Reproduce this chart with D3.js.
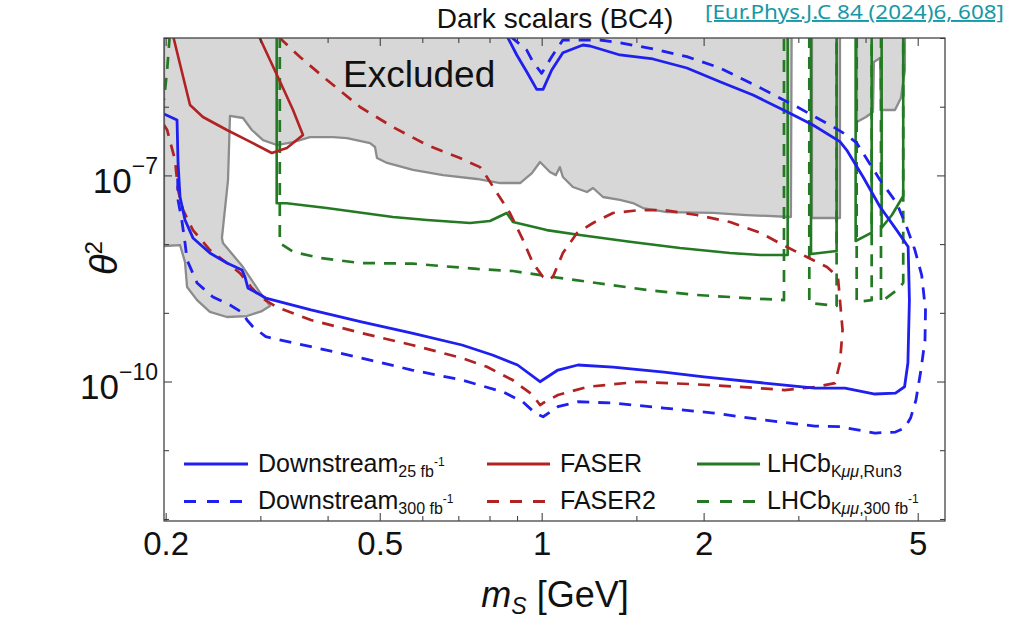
<!DOCTYPE html>
<html><head><meta charset="utf-8">
<script src="https://cdn.jsdelivr.net/npm/d3@7"></script>
<style>
body{margin:0;background:#fff;}
svg{display:block;font-family:"Liberation Sans",Arial,sans-serif;}
</style>
</head><body>
<svg id="chart" width="1009" height="623"></svg>
<script>
// ---------- data ----------
const massTicksMajor = [0.2, 0.5, 1, 2, 5];
const massTicksMinor = [0.3, 0.4, 0.6, 0.7, 0.8, 0.9, 1.5, 3, 4];
const thetaTicksLabeled = [1e-10, 1e-7];
const thetaTicksMinor = [1e-12, 1e-11, 1e-9, 1e-8, 1e-6, 1e-5];

const excludedMain = [[0.1986,1.1e-5],[0.1986,9.38e-9],[0.2127,9.70e-9],[0.2173,5.48e-9],[0.2192,2.38e-9],[0.2288,1.53e-9],[0.2417,1.03e-9],[0.260,8.69e-10],[0.2833,8.98e-10],[0.302,1.06e-9],[0.3126,1.26e-9],[0.30,1.94e-9],[0.2785,4.64e-9],[0.2556,1.04e-8],[0.2545,1.23e-8],[0.2612,8.57e-8],[0.2634,7.33e-7],[0.2785,6.85e-7],[0.2893,4.58e-7],[0.3034,3.27e-7],[0.322,2.77e-7],[0.345,3.06e-7],[0.371,3.62e-7],[0.4094,3.62e-7],[0.4346,3.50e-7],[0.4797,2.96e-7],[0.49,2.59e-7],[0.4942,1.79e-7],[0.516,1.52e-7],[0.5764,1.20e-7],[0.6556,1.01e-7],[0.758,8.87e-8],[0.837,7.75e-8],[0.912,7.75e-8],[0.9593,1.08e-7],[0.993,1.57e-7],[1.036,1.12e-7],[1.063,1.01e-7],[1.081,1.32e-7],[1.095,9.48e-8],[1.143,6.78e-8],[1.214,5.73e-8],[1.246,6.56e-8],[1.300,4.85e-8],[1.398,4.39e-8],[1.478,3.96e-8],[1.543,3.35e-8],[1.710,2.93e-8],[2.082,2.84e-8],[2.405,2.65e-8],[2.906,2.48e-8],[2.915,1.1e-5]];
const excludedStrip1 = [[3.18,1.1e-5],[3.18,2.40e-8],[3.585,2.40e-8],[3.585,1.1e-5]];
const excludedStrip2 = [[3.855,1.1e-5],[3.855,5.98e-7],[4.007,7.08e-7],[4.129,8.38e-7],[4.146,4.48e-6],[4.255,5.12e-6],[4.273,8.95e-7],[4.536,8.95e-7],[4.654,1.34e-6],[4.734,3.42e-6],[4.734,1.1e-5]];

const downstream25 = [[0.862,1.07e-5],[0.899,5.66e-6],[0.938,3.23e-6],[0.979,1.79e-6],[1.006,1.79e-6],[1.044,3.42e-6],[1.095,6.11e-6],[1.193,7.91e-6],[1.23,7.65e-6],[1.398,5.66e-6],[1.61,4.95e-6],[1.862,3.66e-6],[2.145,2.31e-6],[2.471,1.48e-6],[2.857,8.45e-7],[3.194,5.42e-7],[3.585,3.10e-7],[3.69,2.34e-7],[3.956,9.57e-8],[4.255,3.50e-8],[4.57,1.60e-8],[4.80,9.16e-9],[4.826,1.53e-9],[4.795,1.86e-10],[4.727,8.39e-11],[4.546,6.80e-11],[4.164,6.58e-11],[3.662,8.04e-11],[3.221,8.04e-11],[2.595,9.50e-11],[2.003,1.17e-10],[1.688,1.37e-10],[1.357,1.62e-10],[1.168,1.74e-10],[1.072,1.47e-10],[0.993,9.93e-11],[0.902,1.74e-10],[0.810,2.43e-10],[0.711,3.40e-10],[0.574,5.08e-10],[0.4624,7.41e-10],[0.3725,1.10e-9],[0.307,1.64e-9],[0.2957,1.94e-9],[0.2844,2.30e-9],[0.2809,3.32e-9],[0.2773,4.20e-9],[0.260,5.31e-9],[0.2417,7.41e-9],[0.2248,1.23e-8],[0.2173,2.24e-8],[0.2127,4.85e-8],[0.2109,1.52e-7],[0.210,6.40e-7],[0.1986,7.83e-7]];
const downstream300 = [[0.873,1.07e-5],[0.938,6.68e-6],[0.963,4.52e-6],[1.0,3.06e-6],[1.044,5.35e-6],[1.095,9.35e-6],[1.283,9.35e-6],[1.398,8.55e-6],[1.61,6.92e-6],[1.862,5.35e-6],[2.145,3.66e-6],[2.553,1.87e-6],[2.979,1.0e-6],[3.478,5.12e-7],[3.69,3.87e-7],[3.851,2.97e-7],[4.255,8.57e-8],[4.57,3.96e-8],[4.768,1.79e-8],[4.941,8.20e-9],[5.086,3.55e-9],[5.17,1.10e-9],[5.159,4.02e-10],[5.07,1.47e-10],[4.963,5.38e-11],[4.85,2.94e-11],[4.727,2.10e-11],[4.546,1.84e-11],[4.164,1.78e-11],[3.585,2.20e-11],[3.221,2.25e-11],[2.595,2.75e-11],[2.09,3.48e-11],[1.688,4.11e-11],[1.357,4.86e-11],[1.168,5.08e-11],[1.072,4.30e-11],[1.006,3.07e-11],[0.972,3.48e-11],[0.922,5.08e-11],[0.846,7.10e-11],[0.711,1.05e-10],[0.574,1.47e-10],[0.4624,2.20e-10],[0.3725,3.21e-10],[0.307,4.49e-10],[0.2905,6.28e-10],[0.2833,7.85e-10],[0.2785,9.93e-10],[0.2634,1.30e-9],[0.2449,1.70e-9],[0.2288,2.72e-9],[0.2192,5.87e-9],[0.2173,1.04e-8],[0.2143,2.24e-8],[0.2109,4.39e-8],[0.2105,1.01e-7]];

const faser = [[0.2065,1.07e-5],[0.222,1.06e-6],[0.2346,7.08e-7],[0.260,4.58e-7],[0.2833,3.27e-7],[0.315,2.12e-7],[0.336,2.51e-7],[0.36,3.87e-7],[0.345,8.95e-7],[0.3305,1.87e-6],[0.3126,4.79e-6],[0.298,1.07e-5]];
const faser2 = [[0.1986,5.42e-7],[0.2013,4.58e-7],[0.2082,1.67e-7],[0.2109,6.13e-8],[0.2155,3.13e-8],[0.2248,1.60e-8],[0.2417,8.20e-9],[0.260,5.31e-9],[0.2749,3.79e-9],[0.2893,2.30e-9],[0.30,1.70e-9],[0.322,1.21e-9],[0.3725,7.85e-10],[0.4624,5.08e-10],[0.574,3.40e-10],[0.711,2.20e-10],[0.791,1.64e-10],[0.883,1.05e-10],[0.9627,6.36e-11],[0.993,4.55e-11],[1.006,4.86e-11],[1.072,6.36e-11],[1.219,8.39e-11],[1.514,9.93e-11],[1.878,9.20e-11],[2.327,8.39e-11],[2.829,7.52e-11],[3.221,8.32e-11],[3.509,9.50e-11],[3.585,1.86e-10],[3.625,5.62e-10],[3.585,1.53e-9],[3.554,3.32e-9],[3.391,4.64e-9],[3.112,6.49e-9],[2.857,9.08e-9],[2.553,1.45e-8],[2.239,2.10e-8],[1.944,2.65e-8],[1.681,3.13e-8],[1.523,3.13e-8],[1.357,2.84e-8],[1.246,2.03e-8],[1.163,1.45e-8],[1.095,7.41e-9],[1.049,3.32e-9],[1.023,3.00e-9],[1.006,3.32e-9],[0.963,5.31e-9],[0.923,1.15e-8],[0.873,2.84e-8],[0.826,5.55e-8],[0.791,9.48e-8],[0.768,1.32e-7],[0.705,1.79e-7],[0.612,2.77e-7],[0.529,5.06e-7],[0.4596,9.91e-7],[0.399,2.45e-6],[0.3555,5.28e-6],[0.329,9.35e-6],[0.325,1.07e-5]];

const lhcbRun3 = [
  [[0.3217,1.07e-5],[0.3217,3.93e-8],[0.3357,3.93e-8],[0.3984,3.35e-8],[0.529,2.48e-8],[0.612,2.24e-8],[0.736,2.03e-8],[0.8014,2.17e-8],[0.861,2.84e-8],[0.8845,2.10e-8],[1.022,1.60e-8],[1.178,1.36e-8],[1.459,1.08e-8],[1.807,8.77e-9],[2.239,7.41e-9],[2.553,6.93e-9],[2.866,6.93e-9],[2.866,1.07e-5]],
  [[3.167,1.07e-5],[3.167,7.18e-9],[3.534,7.94e-9],[3.534,1.07e-5]],
  [[3.834,1.07e-5],[3.834,1.11e-8],[4.106,1.47e-8],[4.106,1.07e-5]],
  [[4.285,1.07e-5],[4.285,1.73e-8],[4.478,2.65e-8],[4.70,5.01e-8],[4.70,1.07e-5]]
];
const lhcb300 = [
  [[0.2035,1.07e-5],[0.2013,3.42e-6],[0.1986,1.26e-6]],
  [[0.326,1.07e-5],[0.326,1.03e-8],[0.345,7.74e-9],[0.387,6.28e-9],[0.4596,5.31e-9],[0.5764,5.19e-9],[0.758,4.35e-9],[0.8845,4.06e-9],[1.049,3.32e-9],[1.265,2.72e-9],[1.567,2.15e-9],[1.942,1.82e-9],[2.405,1.64e-9],[2.821,1.53e-9],[2.821,1.07e-5]],
  [[3.144,1.07e-5],[3.144,1.39e-9],[3.534,1.26e-9],[3.534,1.07e-5]],
  [[3.851,1.07e-5],[3.851,1.44e-9],[4.106,1.53e-9],[4.106,1.07e-5]],
  [[4.273,1.07e-5],[4.273,1.40e-9],[4.347,1.59e-9],[4.601,2.22e-9],[4.70,2.74e-9],[4.70,1.07e-5]]
];

const legendLabels = [
  {col:0,row:0,color:"#1f1ff0",dash:null,parts:[{t:"Downstream"},{t:"25 fb",s:1},{t:"-1",s:2}]},
  {col:0,row:1,color:"#1f1ff0",dash:"12,11",parts:[{t:"Downstream"},{t:"300 fb",s:1},{t:"-1",s:2}]},
  {col:1,row:0,color:"#b22222",dash:null,parts:[{t:"FASER"}]},
  {col:1,row:1,color:"#b22222",dash:"12,11",parts:[{t:"FASER2"}]},
  {col:2,row:0,color:"#237a23",dash:null,parts:[{t:"LHCb"},{t:"K",s:1},{t:"\u03bc\u03bc",s:1,i:1},{t:",Run3",s:1}]},
  {col:2,row:1,color:"#237a23",dash:"12,11",parts:[{t:"LHCb"},{t:"K",s:1},{t:"\u03bc\u03bc",s:1,i:1},{t:",300 fb",s:1},{t:"-1",s:2}]}
];

// ---------- layout ----------
const L=164,R=945,T=38,B=521;
const BLUE="#1f1ff0", RED="#b22222", GREEN="#237a23";

const svg=d3.select("#chart");
const x=d3.scaleLog().domain([0.1986,5.62]).range([L,R]);
const y=d3.scaleLog().domain([Math.pow(10,-12.03),1e-5]).range([B,T]);

svg.append("defs").append("clipPath").attr("id","clip")
  .append("rect").attr("x",L).attr("y",T).attr("width",R-L).attr("height",B-T);

const plot=svg.append("g").attr("clip-path","url(#clip)");
const line=d3.line().x(d=>x(d[0])).y(d=>y(d[1]));

// excluded region
[excludedMain,excludedStrip1,excludedStrip2].forEach(poly=>{
  plot.append("path").attr("d",line(poly)+"Z")
    .attr("fill","#d7d7d7").attr("stroke","#8c8c8c").attr("stroke-width",2.3)
    .attr("stroke-linejoin","round");
});

plot.append("text").attr("x",343).attr("y",87).attr("font-size",37).attr("fill","#111").text("Excluded");

function drawLine(data,color,dash,w){
  const p=plot.append("path").attr("d",line(data)).attr("fill","none")
    .attr("stroke",color).attr("stroke-width",w).attr("stroke-linejoin","round");
  if(dash) p.attr("stroke-dasharray",dash);
}
lhcb300.forEach(s=>drawLine(s,GREEN,"12,9",2.7));
lhcbRun3.forEach(s=>drawLine(s,GREEN,null,2.6));
drawLine(faser2,RED,"12,9",2.7);
drawLine(faser,RED,null,2.6);
drawLine(downstream300,BLUE,"12,9",2.8);
drawLine(downstream25,BLUE,null,2.8);

// ---------- axes ----------
function styleAxis(g){
  g.select(".domain").remove();
  g.selectAll(".tick line").attr("stroke","#333").attr("stroke-width",1);
}
const gB=svg.append("g").attr("transform",`translate(0,${B})`)
  .call(d3.axisBottom(x).tickValues(massTicksMajor).tickSize(-8).tickSizeOuter(0).tickPadding(11).tickFormat(d=>String(d)))
  .call(styleAxis);
gB.attr("font-family",null).attr("font-size",33);
gB.selectAll(".tick text").attr("fill","#111");
svg.append("g").attr("transform",`translate(0,${B})`)
  .call(d3.axisBottom(x).tickValues(massTicksMinor).tickSize(-5).tickFormat(""))
  .call(styleAxis);
svg.append("g").attr("transform",`translate(0,${T})`)
  .call(d3.axisTop(x).tickValues(massTicksMajor).tickSize(-8).tickFormat(""))
  .call(styleAxis);
svg.append("g").attr("transform",`translate(0,${T})`)
  .call(d3.axisTop(x).tickValues(massTicksMinor).tickSize(-5).tickFormat(""))
  .call(styleAxis);

const gL=svg.append("g").attr("transform",`translate(${L},0)`)
  .call(d3.axisLeft(y).tickValues(thetaTicksLabeled).tickSize(-8).tickPadding(6).tickFormat(""))
  .call(styleAxis);
gL.attr("font-family",null);
gL.selectAll(".tick text").each(function(d){
  const t=d3.select(this);
  t.attr("dy",null).attr("y",17).attr("x",-6).attr("text-anchor","end").attr("fill","#111");
  t.append("tspan").attr("font-size",35).text("10");
  t.append("tspan").attr("font-size",23).attr("dy",-19).text("\u2212"+Math.round(-Math.log10(d)));
});
svg.append("g").attr("transform",`translate(${L},0)`)
  .call(d3.axisLeft(y).tickValues(thetaTicksMinor).tickSize(-5).tickFormat(""))
  .call(styleAxis);
svg.append("g").attr("transform",`translate(${R},0)`)
  .call(d3.axisRight(y).tickValues(thetaTicksLabeled).tickSize(-8).tickFormat(""))
  .call(styleAxis);
svg.append("g").attr("transform",`translate(${R},0)`)
  .call(d3.axisRight(y).tickValues(thetaTicksMinor).tickSize(-5).tickFormat(""))
  .call(styleAxis);

svg.append("rect").attr("x",L).attr("y",T).attr("width",R-L).attr("height",B-T)
  .attr("fill","none").attr("stroke","#444").attr("stroke-width",1.3);

// ---------- legend ----------
const colLineX=[[184,248],[487,550],[697,760]];
const colTextX=[258,560,767];
const rowLineY=[464,501.5];
const rowBase=[472,508.5];
const levelOffset=[0,5,-6];
const levelSize=[25,16,12];
legendLabels.forEach(it=>{
  const lx=colLineX[it.col];
  const ln=svg.append("line").attr("x1",lx[0]).attr("x2",lx[1])
    .attr("y1",rowLineY[it.row]).attr("y2",rowLineY[it.row])
    .attr("stroke",it.color).attr("stroke-width",3.2);
  if(it.dash) ln.attr("stroke-dasharray",it.dash);
  const tx=svg.append("text").attr("x",colTextX[it.col]).attr("y",rowBase[it.row]).attr("fill","#111");
  let cur=0;
  it.parts.forEach(p=>{
    const lv=p.s||0;
    const ts=tx.append("tspan").attr("font-size",levelSize[lv]).attr("dy",levelOffset[lv]-cur).text(p.t);
    if(p.i) ts.attr("font-style","italic");
    cur=levelOffset[lv];
  });
});

// ---------- titles ----------
svg.append("text").attr("x",555).attr("y",28).attr("text-anchor","middle")
  .attr("font-size",28).attr("fill","#111").text("Dark scalars (BC4)");
svg.append("text").attr("x",705).attr("y",19).attr("font-size",19)
  .attr("font-family","'Noto Sans','Open Sans',sans-serif")
  .attr("fill","#1798a6").attr("text-decoration","underline")
  .attr("textLength",299).attr("lengthAdjust","spacingAndGlyphs")
  .text("[Eur.Phys.J.C 84 (2024)6, 608]");

const xl=svg.append("text").attr("x",555).attr("y",607).attr("text-anchor","middle")
  .attr("font-size",36).attr("fill","#111");
xl.append("tspan").attr("font-style","italic").text("m");
xl.append("tspan").attr("font-style","italic").attr("font-size",23).attr("dy",7).text("S");
xl.append("tspan").attr("dy",-7).text(" [GeV]");

const yl=svg.append("text").attr("transform","translate(117,258) rotate(-90)")
  .attr("text-anchor","middle").attr("font-size",38).attr("fill","#111");
yl.append("tspan").attr("font-style","italic").text("\u03b8");
yl.append("tspan").attr("font-size",24).attr("dy",-15).text("2");
</script>
</body></html>
